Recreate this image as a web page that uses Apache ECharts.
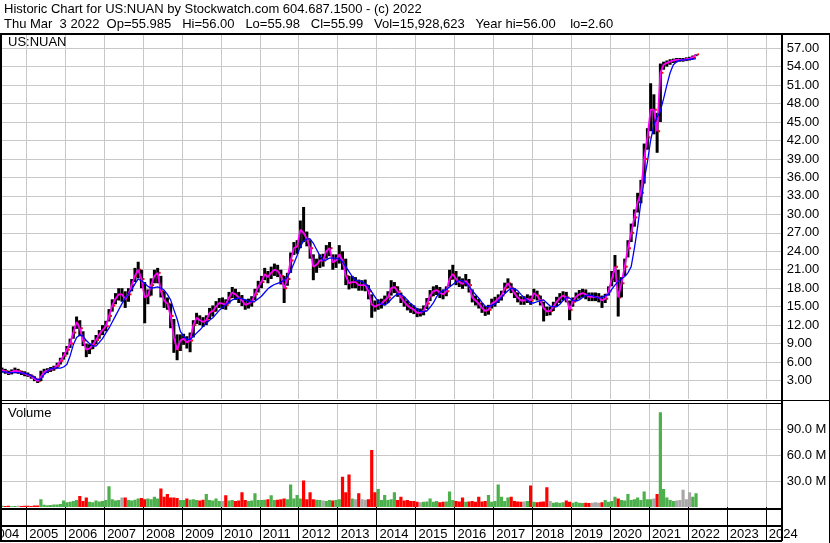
<!DOCTYPE html>
<html><head><meta charset="utf-8">
<script src="https://cdn.jsdelivr.net/npm/echarts@6/dist/echarts.min.js"></script>
<style>html,body{margin:0;padding:0;background:#fff}#c{width:830px;height:543px}</style>
</head><body><div id="c"></div>
<script>
const FONT = "'Liberation Sans', Arial, sans-serif";
const titleLine1 = "Historic Chart for US:NUAN by Stockwatch.com 604.687.1500 - (c) 2022";
const titleLine2 = "Thu Mar  3 2022  Op=55.985   Hi=56.00   Lo=55.98   Cl=55.99   Vol=15,928,623   Year hi=56.00    lo=2.60";
const symbolLabel = "US:NUAN";
const volumeLabel = "Volume";
const startYear = 2004, startMonth = 5; // first monthly bar: May 2004

const high = [
 5.1,4.9,4.6,4.8,5.1,4.9,4.6,4.5,
 4.3,4.0,3.7,3.3,4.6,4.9,5.0,5.2,5.4,5.9,6.7,7.6,
 8.6,9.8,11.8,13.4,12.8,11.0,9.0,8.9,9.6,10.4,11.2,12.0,
 12.7,14.6,16.2,17.2,18.0,18.0,17.5,18.0,19.5,21.3,22.3,21.0,
 19.0,17.8,19.6,21.0,21.3,20.0,17.5,16.5,15.5,13.0,10.5,10.5,
 10.6,10.2,10.8,12.8,14.0,13.6,13.3,13.6,14.8,15.2,15.9,16.4,
 16.5,16.2,17.4,18.2,17.9,17.4,16.9,16.2,16.3,16.7,17.9,19.2,
 20.0,21.3,20.8,21.5,22.0,21.8,21.0,20.0,20.5,23.8,25.5,25.8,
 29.0,31.2,27.2,25.8,23.5,22.8,23.5,23.6,25.0,25.5,23.5,23.5,
 25.0,24.0,22.8,20.0,20.0,19.8,19.4,19.3,19.4,18.5,17.0,16.0,
 16.2,16.3,16.8,17.5,19.3,19.0,18.3,17.3,16.6,16.0,15.5,15.2,
 14.8,14.7,15.2,16.4,17.7,18.3,18.5,18.2,17.8,18.3,21.0,21.8,
 20.8,19.9,19.6,20.3,19.5,17.8,16.8,16.3,15.6,15.1,15.3,16.3,
 16.6,17.0,17.6,18.9,19.6,18.8,18.0,17.3,16.7,16.7,17.0,16.8,
 17.9,17.6,16.8,15.8,15.0,15.0,15.8,16.6,17.2,17.5,17.4,16.0,
 16.5,17.3,17.7,17.9,17.8,17.3,17.3,17.3,17.2,16.8,17.1,18.3,
 20.8,23.4,21.0,19.8,22.8,25.8,28.5,30.8,33.5,35.6,41.5,44.0,
 51.3,49.5,46.5,54.5,54.8,55.0,55.2,55.3,55.4,55.4,55.4,55.5,
 55.6,55.8,56.0
];
const low = [
 4.3,4.1,3.9,4.0,4.2,4.1,3.9,3.7,
 3.6,3.3,2.9,2.6,2.9,4.0,4.2,4.4,4.6,5.0,5.6,6.4,
 7.2,8.3,9.8,11.4,10.2,8.6,6.8,7.3,8.1,8.9,9.8,10.4,
 11.0,12.6,14.2,15.4,16.0,15.8,14.8,15.8,17.5,19.0,19.6,18.0,
 12.3,15.4,16.8,18.8,18.8,16.5,14.8,14.5,11.5,7.5,6.3,7.8,
 8.8,8.2,7.6,10.0,12.2,12.0,11.7,12.0,13.0,13.4,14.2,14.8,
 14.6,14.5,15.5,16.4,16.1,15.6,15.1,14.5,14.7,15.0,16.1,17.3,
 18.0,19.3,18.8,19.5,20.0,19.8,18.6,15.6,18.4,20.5,23.4,23.6,
 24.5,25.5,24.8,22.8,19.3,20.5,21.3,21.5,22.8,23.2,21.0,21.3,
 22.0,21.0,18.5,17.8,18.0,18.0,17.6,17.6,17.5,16.2,13.2,14.2,
 14.5,14.7,15.2,15.6,16.8,17.2,16.6,15.6,15.0,14.4,14.0,13.8,
 13.3,13.4,13.6,14.6,15.9,16.7,16.9,16.4,16.2,16.7,18.3,19.4,
 18.5,18.2,17.9,18.3,17.3,15.7,15.2,14.7,14.0,13.5,13.7,14.7,
 15.0,15.6,16.0,17.2,18.0,17.2,16.4,15.7,15.3,15.3,15.6,15.3,
 16.2,16.0,15.2,12.6,13.5,13.6,14.3,15.0,15.6,16.0,15.7,12.8,
 15.0,15.9,16.3,16.5,16.2,15.9,15.9,15.9,15.7,14.8,15.6,16.8,
 18.3,19.0,13.4,16.5,20.0,23.0,25.5,28.0,30.3,31.8,35.0,40.5,
 43.5,43.0,40.0,45.0,53.5,54.0,54.3,54.6,54.7,54.8,54.8,54.9,
 55.0,55.2,55.7
];
const close = [
 4.7,4.5,4.2,4.4,4.6,4.5,4.3,4.1,
 3.9,3.7,3.3,2.9,3.6,4.4,4.6,4.8,5.0,5.4,6.2,7.0,
 8.0,9.0,10.8,12.5,11.5,9.5,8.0,8.2,8.8,9.6,10.5,11.2,
 11.8,13.5,15.2,16.3,17.0,17.0,16.2,17.0,18.5,20.0,21.0,19.5,
 16.5,16.8,18.5,20.0,20.5,17.5,16.0,15.5,13.5,10.0,8.0,9.5,
 9.8,9.2,9.5,12.0,13.2,12.8,12.5,12.8,14.0,14.3,15.0,15.6,
 15.5,15.3,16.5,17.3,17.0,16.5,16.0,15.3,15.5,15.8,17.0,18.2,
 19.0,20.3,19.8,20.5,21.0,20.8,20.0,18.0,19.5,22.5,24.5,24.8,
 27.5,27.0,26.0,24.5,21.5,21.8,22.5,22.5,24.0,24.5,22.2,22.5,
 23.5,22.5,20.0,18.8,19.0,19.0,18.5,18.5,18.5,17.5,15.4,15.0,
 15.3,15.5,16.0,16.5,18.0,18.2,17.5,16.5,15.8,15.2,14.8,14.5,
 14.0,14.0,14.3,15.5,16.8,17.5,17.7,17.3,17.0,17.5,19.5,20.3,
 19.5,19.0,18.7,19.2,18.5,16.5,16.0,15.5,14.8,14.3,14.5,15.5,
 15.8,16.3,16.8,18.0,18.8,18.0,17.2,16.5,16.0,16.0,16.3,16.0,
 17.2,16.8,16.0,14.8,14.2,14.3,15.0,15.8,16.4,16.8,16.5,14.5,
 15.8,16.6,17.0,17.2,17.0,16.6,16.6,16.6,16.5,16.0,16.3,17.5,
 19.5,21.5,16.5,18.8,21.5,24.5,27.0,29.5,32.0,33.5,39.0,42.5,
 47.0,47.0,43.5,53.0,54.3,54.6,54.8,55.0,55.1,55.1,55.1,55.2,
 55.3,55.5,55.99
];
const maLong = [
 4.4,4.4,4.3,4.3,4.3,4.3,4.2,4.2,
 4.0,3.8,3.5,3.1,3.3,4.0,4.5,4.9,5.0,5.0,5.0,5.2,
 5.6,7.0,8.8,10.0,10.4,10.2,9.5,9.0,8.6,8.6,9.2,9.8,
 10.7,11.5,12.5,13.5,14.5,15.5,16.4,17.0,17.8,18.7,19.5,19.2,
 18.8,18.3,18.0,18.1,18.2,18.0,17.7,17.0,16.1,14.5,13.0,11.0,
 10.2,9.7,9.7,10.2,10.7,11.2,11.8,12.3,12.8,13.2,13.8,14.4,
 14.9,15.3,15.7,16.1,16.3,16.4,16.3,16.1,15.9,15.8,15.9,16.3,
 16.7,17.3,17.9,18.3,18.6,18.8,19.0,19.3,19.8,20.8,22.0,23.3,
 24.8,25.7,26.0,26.0,25.3,24.3,23.3,22.5,22.6,22.9,22.9,22.9,
 22.7,22.3,21.5,20.7,19.9,19.3,19.2,19.1,18.7,18.2,17.4,16.6,
 15.8,15.4,15.3,15.6,16.2,16.7,17.1,17.0,16.6,16.1,15.5,15.1,
 14.6,14.2,14.2,14.3,14.9,15.6,16.6,17.3,17.6,17.8,18.2,18.6,
 19.0,19.3,19.2,18.8,18.3,17.6,17.0,16.4,15.7,15.1,15.0,15.2,
 15.4,15.9,16.5,17.1,17.6,18.0,17.9,17.6,17.0,16.5,16.0,15.6,
 15.6,15.8,16.0,16.1,15.6,15.1,15.0,15.0,15.4,16.0,16.5,16.4,
 16.0,15.9,16.1,16.5,16.8,16.9,16.8,16.6,16.4,16.5,16.8,17.0,
 17.8,18.5,19.1,19.5,19.9,20.5,21.5,24.5,28.0,32.0,35.5,38.5,
 42.0,44.5,45.8,46.8,48.8,51.0,53.0,54.3,54.8,55.0,55.1,55.1,
 55.2,55.2,55.3
];
const volumeM = [
 1.5,1.2,1.4,1.0,1.3,1.5,1.2,1.4,
 1.5,1.3,1.6,1.8,9.0,2.5,2.0,2.2,2.8,3.0,3.5,7.5,
 5.5,6.0,7.0,8.0,12.8,7.0,11.0,6.0,5.5,7.5,6.5,7.0,
 8.0,24.0,9.0,7.5,8.0,11.0,11.0,8.0,7.5,8.5,10.0,10.5,
 9.0,10.0,9.0,12.0,10.0,21.5,12.0,15.0,11.0,11.0,10.5,8.0,
 8.0,10.0,8.5,9.0,8.0,7.5,8.5,15.0,8.0,7.5,10.0,7.0,
 7.0,13.6,7.5,8.0,7.0,7.5,17.0,8.0,7.0,7.5,16.0,8.0,
 8.0,8.5,9.0,13.6,8.0,8.5,9.0,10.0,9.0,26.0,10.0,14.0,
 10.0,30.6,9.0,17.0,9.0,8.5,8.0,7.5,7.0,8.0,7.5,8.0,
 9.0,35.0,17.0,37.7,10.0,9.0,16.0,9.0,8.5,9.0,66.0,17.0,
 21.0,8.0,14.0,8.0,9.0,17.0,8.0,12.0,7.5,8.0,7.0,7.0,
 6.0,5.5,6.0,6.5,10.0,6.0,7.0,5.5,6.0,6.5,18.0,8.0,
 7.0,6.5,11.0,6.0,6.5,7.0,6.0,12.0,6.5,7.0,14.0,6.0,
 7.0,26.0,12.0,7.0,11.0,12.0,7.0,6.5,6.0,6.5,7.0,25.0,
 6.0,5.5,6.0,6.5,23.0,7.0,5.0,5.5,5.0,5.5,7.5,6.0,
 5.0,6.0,5.0,4.5,5.0,4.5,5.0,5.5,5.0,5.5,8.0,6.0,
 7.0,12.0,10.0,8.0,7.5,15.0,8.0,9.0,11.0,8.0,18.0,9.0,
 9.0,10.0,15.0,110.0,21.0,11.0,8.0,7.0,7.5,8.0,20.0,9.0,
 17.0,12.0,16.0
];

// month centres as decimal years
const times = close.map((_, i) => startYear + (startMonth - 1 + i + 0.5) / 12);

const X0 = 2004, XPX = 38.92;            // px per year
const GL = 26.3 - XPX;                   // x pixel of 2004.0
const XRIGHT = 781.7;
const XMAX = X0 + (XRIGHT - GL) / XPX;
const GR = 830 - XRIGHT;

const GRID = '#c8c8c8';
const chart = echarts.init(document.getElementById('c'), null, {renderer: 'canvas'});

function L(x1, y1, x2, y2, w) {
  return {type: 'line', z: 100, silent: true, shape: {x1, y1, x2, y2}, style: {stroke: '#000', lineWidth: w}};
}
function T(text, x, y) {
  return {type: 'text', z: 100, silent: true, style: {text, x, y, fill: '#000', font: '13px ' + FONT, verticalAlign: 'middle'}};
}

const priceBars = times.map((t, i) => [t, low[i], high[i], close[i]]);
const volData = times.map((t, i) => {
  const d = i === 0 ? 1 : close[i] - close[i - 1];
  return [t, volumeM[i] * 1e6, Math.abs(d) <= 0.1001 ? 0 : (d > 0 ? 1 : -1)];
});

const option = {
  animation: false,
  backgroundColor: '#fff',
  textStyle: {fontFamily: FONT},
  grid: [
    {left: GL, right: GR, top: 34, bottom: 144, outerBoundsMode: 'none', containLabel: false},
    {left: GL, right: GR, top: 403.5, bottom: 36, outerBoundsMode: 'none', containLabel: false}
  ],
  xAxis: [
    {type: 'value', gridIndex: 0, min: X0, max: XMAX, interval: 1,
     axisLine: {show: false}, axisTick: {show: false}, axisLabel: {show: false},
     splitLine: {show: true, lineStyle: {color: GRID, width: 1}}},
    {type: 'value', gridIndex: 1, min: X0, max: XMAX, interval: 1,
     axisLine: {show: false},
     axisTick: {show: true, length: 34, lineStyle: {color: '#000', width: 1}},
     axisLabel: {show: true, showMaxLabel: false, showMinLabel: true,
       formatter: v => Math.abs(v - Math.round(v)) < 1e-6 ? String(Math.round(v)) : '',
       align: 'left', verticalAlign: 'middle', margin: 27, padding: [0, 0, 0, 3],
       color: '#000', fontSize: 13, fontFamily: FONT},
     splitLine: {show: true, lineStyle: {color: GRID, width: 1}}}
  ],
  yAxis: [
    {type: 'value', gridIndex: 0, position: 'right', min: 0, max: 59.3, interval: 3,
     axisLine: {show: false}, axisTick: {show: false},
     axisLabel: {formatter: v => v.toFixed(2), margin: 5, color: '#000', fontSize: 13, fontFamily: FONT,
       showMinLabel: false, showMaxLabel: false},
     splitLine: {show: true, showMinLine: false, lineStyle: {color: GRID, width: 1}}},
    {type: 'value', gridIndex: 1, position: 'right', min: 0, max: 120e6, interval: 30e6,
     axisLine: {show: false}, axisTick: {show: false},
     axisLabel: {formatter: v => (v / 1e6).toFixed(1) + ' M', margin: 5, color: '#000', fontSize: 13, fontFamily: FONT,
       showMinLabel: false, showMaxLabel: false},
     splitLine: {show: true, showMinLine: false, lineStyle: {color: GRID, width: 1}}}
  ],
  series: [
    {type: 'custom', xAxisIndex: 0, yAxisIndex: 0, data: priceBars, clip: true,
     encode: {x: 0, y: [1, 2]},
     renderItem: (params, api) => {
       const t = api.value(0);
       const lo = api.coord([t, api.value(1)]);
       const hi = api.coord([t, api.value(2)]);
       const c = api.coord([t, api.value(3)]);
       return {type: 'group', children: [
         {type: 'rect', shape: {x: lo[0] - 1.5, y: hi[1], width: 3.0, height: Math.max(1, lo[1] - hi[1])}, style: {fill: '#000'}},
         {type: 'rect', shape: {x: c[0] + 1.2, y: c[1] - 1, width: 1.8, height: 2}, style: {fill: '#ff0000'}}
       ]};
     }},
    {type: 'line', xAxisIndex: 0, yAxisIndex: 0, data: times.map((t, i) => [t, close[i]]),
     showSymbol: false, symbol: 'none', lineStyle: {color: '#ff00ff', width: 1.8}, itemStyle: {color: '#ff00ff'}},
    {type: 'line', xAxisIndex: 0, yAxisIndex: 0, data: times.map((t, i) => [t, maLong[i]]),
     showSymbol: false, symbol: 'none', lineStyle: {color: '#0000ff', width: 1.3}, itemStyle: {color: '#0000ff'}},
    {type: 'custom', xAxisIndex: 1, yAxisIndex: 1, data: volData, clip: true,
     encode: {x: 0, y: 1},
     renderItem: (params, api) => {
       const t = api.value(0);
       const top = api.coord([t, api.value(1)]);
       const base = api.coord([t, 0]);
       const dir = api.value(2);
       const col = dir > 0 ? '#4cb04c' : (dir < 0 ? '#ff0000' : '#a8a8a8');
       return {type: 'rect', shape: {x: top[0] - 1.6, y: top[1], width: 3.2, height: Math.max(1, base[1] - top[1])}, style: {fill: col}};
     }}
  ],
  graphic: [
    T(titleLine1, 4, 9),
    T(titleLine2, 4, 24),
    T(symbolLabel, 8, 42),
    T(volumeLabel, 8, 413),
    L(0, 34, 830, 34, 2),
    L(1, 33, 1, 541, 2),
    L(782, 33, 782, 541, 2),
    L(829.5, 33, 829.5, 543, 1),
    L(0, 400.5, 830, 400.5, 1),
    L(0, 403.5, 782, 403.5, 1),
    L(0, 509, 782, 509, 2),
    L(0, 526, 782, 526, 2),
    L(0, 541, 782, 541, 2)
  ]
};
chart.setOption(option);
</script>
</body></html>
